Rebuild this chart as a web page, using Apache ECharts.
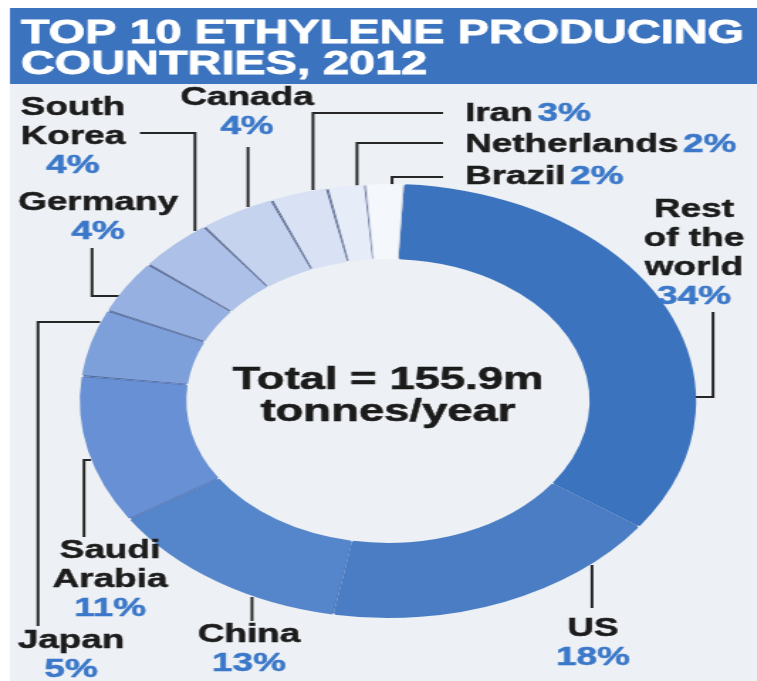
<!DOCTYPE html>
<html>
<head>
<meta charset="utf-8">
<script src="https://cdn.jsdelivr.net/npm/echarts@6/dist/echarts.min.js"></script>
<style>
  html, body { margin: 0; padding: 0; background: #ffffff; overflow: hidden; }
  /* the graphic is drawn narrow and stretched sideways as a whole */
  #chart { position: absolute; left: 0; top: 0; width: 533px; height: 681px;
           transform: scaleX(1.42); transform-origin: 0 0; }
</style>
</head>
<body>
<div id="chart"></div>
<script>
// ---- data ----
const categories = ['Rest of the world', 'US', 'China', 'Saudi Arabia', 'Japan',
                    'Germany', 'South Korea', 'Canada', 'Iran', 'Netherlands', 'Brazil'];
const shares = [34, 18, 13, 11, 5, 4, 4, 4, 3, 2, 2];   // % of world output
const titleLines = ['TOP 10 ETHYLENE PRODUCING', 'COUNTRIES, 2012'];
const totalLines = ['Total = 155.9m', 'tonnes/year'];

// ---- geometry & styling ----
const SX = 1.42;                 // horizontal stretch of the container
const W = 533, H = 681;
const CX = 273.2, CY = 401, R_OUT = 217, R_IN = 142;
const FONT = '"Liberation Sans", Arial, Helvetica, sans-serif';

const sliceColors = ['#3b73be', '#4a7dc4', '#5585ca', '#6890d4', '#7d9fda',
                     '#96b0e1', '#adc0e7', '#c6d3ef', '#d9e2f5', '#e7edf8', '#f4f7fc'];
// thin seams between slices show this ring through the gaps
const seamColors = ['#3f74bb', '#4a7bc0', '#4c7ac0', '#5273b0', '#4f6ca6',
                    '#55668f', '#55658f', '#5a6a8f', '#5a6a8f', '#66749a', '#c3cbdc'];

// where each label sits and how its leader runs (screen pixels, after the stretch)
const labelPlaces = [
  { lines: ['Rest', 'of the', 'world'], x: 694, y: 253, align: 'center',
    guide: [[695, 397], [713, 397], [713, 312]] },
  { lines: ['US'], x: 593, y: 643, align: 'center',
    guide: [[592, 565], [592, 608]] },
  { lines: ['China'], x: 249, y: 649, align: 'center',
    guide: [[252, 597], [252, 621]] },
  { lines: ['Saudi', 'Arabia'], x: 110, y: 580, align: 'center',
    guide: [[91, 460], [84, 460], [84, 537]] },
  { lines: ['Japan'], x: 71, y: 655, align: 'center',
    guide: [[100, 322], [38, 322], [38, 626]] },
  { lines: ['Germany'], x: 98, y: 217, align: 'center',
    guide: [[119, 296], [92, 296], [92, 248]] },
  { lines: ['South', 'Korea'], x: 73, y: 137, align: 'center',
    guide: [[195, 231], [195, 133], [140, 133]] },
  { lines: ['Canada'], x: 247, y: 112, align: 'center',
    guide: [[248, 207], [248, 147]] },
  { lines: ['Iran'], x: 465, y: 114, align: 'left', inline: true,
    guide: [[313, 190], [313, 113], [443, 113]] },
  { lines: ['Netherlands'], x: 465, y: 145, align: 'left', inline: true,
    guide: [[357, 186], [357, 143], [443, 143]] },
  { lines: ['Brazil'], x: 465, y: 177, align: 'left', inline: true,
    guide: [[392, 185], [392, 177], [443, 177]] }
];

const pieData = categories.map((name, i) => ({
  name: name, value: shares[i], itemStyle: { color: sliceColors[i] }
}));
const seamData = categories.map((name, i) => ({
  name: name, value: shares[i], itemStyle: { color: seamColors[i] }
}));

const chart = echarts.init(document.getElementById('chart'), null, { renderer: 'canvas', width: W, height: H });

chart.setOption({
  animation: false,
  backgroundColor: 'transparent',
  graphic: [
    { type: 'rect', z: 0, shape: { x: 10 / SX, y: 8, width: W, height: H }, style: { fill: '#edf0f4' } },
    { type: 'rect', z: 0, shape: { x: 10 / SX, y: 8, width: W, height: 76 }, style: { fill: '#3b73be' } },
    { type: 'text', z: 10, x: 21 / SX, y: 49,
      style: { text: titleLines.join('\n'), fill: '#ffffff', font: 'bold 33px ' + FONT,
               lineHeight: 31, align: 'left', verticalAlign: 'middle',
               stroke: '#ffffff', lineWidth: 0.8 } },
    { type: 'text', z: 10, x: CX, y: 396,
      style: { text: totalLines.join('\n'), fill: '#1b1b1b', font: 'bold 32px ' + FONT,
               lineHeight: 32, align: 'center', verticalAlign: 'middle',
               stroke: '#1b1b1b', lineWidth: 0.6 } }
  ],
  series: [
    {
      type: 'pie', silent: true, z: 2,
      center: [CX, CY], radius: [R_IN + 1, R_OUT - 1],
      startAngle: 87, clockwise: true,
      label: { show: false }, labelLine: { show: false },
      emphasis: { disabled: true },
      data: seamData
    },
    {
      type: 'pie', silent: true, z: 3,
      center: [CX, CY], radius: [R_IN, R_OUT],
      startAngle: 87, clockwise: true, padAngle: 0.5,
      avoidLabelOverlap: false,
      emphasis: { disabled: true },
      data: pieData,
      label: {
        show: true, position: 'outside',
        formatter: (p) => {
          const place = labelPlaces[p.dataIndex];
          if (place.inline) return '{n|' + place.lines[0] + '} {p|' + p.value + '%}';
          return place.lines.map(l => '{n|' + l + '}').join('\n') + '\n{p|' + p.value + '%}';
        },
        rich: {
          n: { fontFamily: FONT, fontWeight: 'bold', fontSize: 26, color: '#1c1c1c', lineHeight: 29, align: 'center',
               textBorderColor: '#1c1c1c', textBorderWidth: 0.5 },
          p: { fontFamily: FONT, fontWeight: 'bold', fontSize: 26, color: '#3b78c9', lineHeight: 29, align: 'center',
               textBorderColor: '#3b78c9', textBorderWidth: 0.5 }
        }
      },
      labelLine: { show: true, length: 10, length2: 10, lineStyle: { color: '#262626', width: 2 } },
      labelLayout: (params) => {
        const place = labelPlaces[params.dataIndex];
        return {
          x: place.x / SX, y: place.y,
          align: place.align, verticalAlign: 'middle',
          labelLinePoints: place.guide.map(pt => [pt[0] / SX, pt[1]])
        };
      }
    }
  ]
});
</script>
</body>
</html>
